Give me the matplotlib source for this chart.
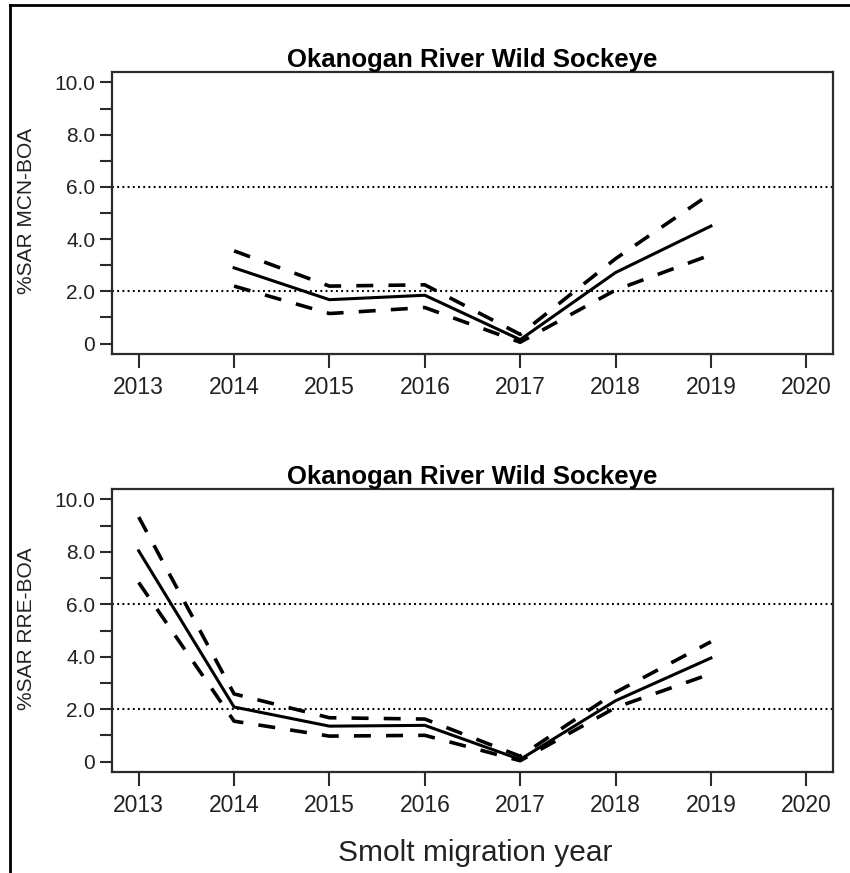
import matplotlib
matplotlib.use("Agg")
import matplotlib.pyplot as plt
from matplotlib.lines import Line2D

plt.rcParams['font.family'] = ['Liberation Sans', 'DejaVu Sans']

# Smolt-to-adult return (%) estimates with confidence bounds
mcn_years = [2014, 2015, 2016, 2017, 2018, 2019]
mcn_sar = [2.9, 1.68, 1.85, 0.15, 2.72, 4.5]
mcn_upper = [3.55, 2.2, 2.25, 0.35, 3.25, 5.75]
mcn_lower = [2.2, 1.15, 1.38, 0.05, 2.05, 3.4]

rre_years = [2013, 2014, 2015, 2016, 2017, 2018, 2019]
rre_sar = [8.04, 2.08, 1.35, 1.38, 0.08, 2.32, 3.95]
rre_upper = [9.33, 2.58, 1.67, 1.62, 0.2, 2.64, 4.57]
rre_lower = [6.83, 1.54, 0.97, 1.0, 0.03, 2.06, 3.35]

x_ticks = [2013, 2014, 2015, 2016, 2017, 2018, 2019, 2020]
y_ticks = [0, 1, 2, 3, 4, 5, 6, 7, 8, 9, 10]
y_tick_labels = ["0", "", "2.0", "", "4.0", "", "6.0", "", "8.0", "", "10.0"]
ref_levels = [2, 6]

title = "Okanogan River Wild Sockeye"
ylabels = ["%SAR MCN-BOA", "%SAR RRE-BOA"]
xlabel = "Smolt migration year"

W, H = 850, 873
fig = plt.figure(figsize=(W / 100, H / 100), dpi=100)
fig.patch.set_facecolor("white")

axis_col = "#2b2b2b"
text_col = "#222222"


def panel(rect, years, est, up, lo):
    ax = fig.add_axes(rect)
    ax.set_xlim(2012.72, 2020.28)
    ax.set_ylim(-0.4, 10.4)
    for lvl in ref_levels:
        ax.axhline(lvl, color="black", lw=1.5, linestyle=(0, (0.9, 1.6)), zorder=1)
    ax.plot(years, up, color="black", lw=2.6, linestyle=(0, (4.7, 4.2)), zorder=2)
    ax.plot(years, lo, color="black", lw=2.6, linestyle=(0, (4.7, 4.2)), zorder=2)
    ax.plot(years, est, color="black", lw=2.2, solid_joinstyle="round", zorder=3)
    ax.set_xticks(x_ticks)
    ax.set_xticklabels([str(y) for y in x_ticks])
    ax.set_yticks(y_ticks)
    ax.set_yticklabels(y_tick_labels)
    ax.tick_params(axis="x", length=10, width=1.5, color=axis_col, pad=6,
                   labelsize=16.5, labelcolor=text_col)
    ax.tick_params(axis="y", length=8.5, width=1.5, color=axis_col, pad=3.5,
                   labelsize=15, labelcolor=text_col)
    for s in ax.spines.values():
        s.set_color(axis_col)
        s.set_linewidth(1.6)
    ax.set_title(title, fontsize=18.5, fontweight="bold", pad=3)
    return ax


ax1 = panel([112 / W, 1 - 354 / H, 721 / W, 282 / H],
            mcn_years, mcn_sar, mcn_upper, mcn_lower)
ax2 = panel([112 / W, 1 - 772 / H, 721 / W, 283 / H],
            rre_years, rre_sar, rre_upper, rre_lower)

fig.text(27 / W, 1 - 211 / H, ylabels[0], rotation=90, ha="center", va="center",
         fontsize=15, color=text_col)
fig.text(27 / W, 1 - 629 / H, ylabels[1], rotation=90, ha="center", va="center",
         fontsize=15, color=text_col)
fig.text(475 / W, 1 - 853 / H, xlabel, ha="center", va="center",
         fontsize=21.5, color=text_col)

# outer frame (left and top edges)
fig.add_artist(Line2D([10 / W, 10 / W], [0, 1 - 5 / H], color="black", lw=2,
                      transform=fig.transFigure))
fig.add_artist(Line2D([10 / W, 1], [1 - 5 / H, 1 - 5 / H], color="black", lw=2,
                      transform=fig.transFigure))

fig.savefig("out.png", dpi=100)
